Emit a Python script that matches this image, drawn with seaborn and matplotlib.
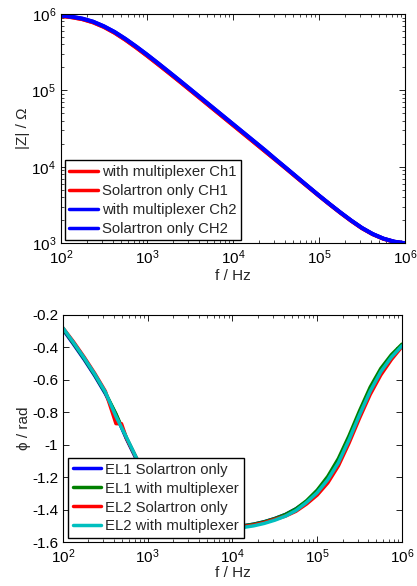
import numpy as np
import pandas as pd
import matplotlib
matplotlib.use("Agg")
import matplotlib.pyplot as plt
import seaborn as sns
from matplotlib.lines import Line2D
from matplotlib.ticker import LogLocator, FixedLocator, NullFormatter

# ---------------- data ----------------
freq = [100, 133, 178, 237, 316, 422, 562, 750, 1000, 1334, 1778, 2371, 3162, 4217,
        5623, 7499, 10000, 13335, 17783, 23714, 31623, 42170, 56234, 74989, 100000,
        133352, 177828, 237137, 316228, 421697, 562341, 749894, 1000000]

# |Z| read as log10(ohm)
logz_mux_ch1 = [5.975, 5.958, 5.932, 5.890, 5.830, 5.753, 5.662, 5.561, 5.455, 5.345,
                5.234, 5.121, 5.006, 4.891, 4.776, 4.661, 4.546, 4.431, 4.316, 4.201,
                4.086, 3.970, 3.852, 3.736, 3.620, 3.507, 3.397, 3.292, 3.196, 3.117,
                3.057, 3.018, 2.998]
logz_sol_ch1 = [5.976, 5.959, 5.933, 5.892, 5.832, 5.755, 5.664, 5.563, 5.457, 5.347,
                5.236, 5.123, 5.008, 4.893, 4.778, 4.663, 4.548, 4.433, 4.318, 4.203,
                4.088, 3.972, 3.854, 3.738, 3.622, 3.509, 3.399, 3.294, 3.197, 3.118,
                3.058, 3.019, 2.999]
logz_mux_ch2 = [5.980, 5.965, 5.940, 5.900, 5.840, 5.765, 5.675, 5.575, 5.470, 5.360,
                5.248, 5.135, 5.020, 4.905, 4.790, 4.675, 4.560, 4.445, 4.330, 4.215,
                4.095, 3.978, 3.860, 3.742, 3.625, 3.512, 3.402, 3.297, 3.200, 3.120,
                3.060, 3.020, 3.000]
logz_sol_ch2 = [5.981, 5.966, 5.941, 5.901, 5.841, 5.766, 5.676, 5.576, 5.471, 5.361,
                5.249, 5.136, 5.021, 4.906, 4.791, 4.676, 4.561, 4.446, 4.331, 4.216,
                4.096, 3.979, 3.861, 3.743, 3.626, 3.513, 3.403, 3.298, 3.201, 3.121,
                3.061, 3.021, 3.001]
mag_labels = ["with multiplexer Ch1", "Solartron only CH1",
              "with multiplexer Ch2", "Solartron only CH2"]

# phase (rad)
ph_el1_sol = [-0.29, -0.38, -0.475, -0.575, -0.685, -0.815, -0.965, -1.10, -1.23,
              -1.325, -1.40, -1.45, -1.48, -1.50, -1.505, -1.51, -1.505, -1.50, -1.49,
              -1.475, -1.455, -1.43, -1.395, -1.35, -1.285, -1.205, -1.10, -0.96,
              -0.805, -0.66, -0.54, -0.455, -0.385]
ph_el1_mux = [-0.285, -0.375, -0.47, -0.57, -0.68, -0.81, -0.96, -1.095, -1.225,
              -1.325, -1.40, -1.45, -1.48, -1.50, -1.505, -1.51, -1.505, -1.50, -1.49,
              -1.475, -1.455, -1.43, -1.395, -1.345, -1.28, -1.195, -1.085, -0.945,
              -0.79, -0.645, -0.53, -0.445, -0.38]
freq_el2_sol = [100, 133, 178, 237, 316, 422, 490, 562, 750, 1000, 1334, 1778, 2371,
                3162, 4217, 5623, 7499, 10000, 13335, 17783, 23714, 31623, 42170, 56234,
                74989, 100000, 133352, 177828, 237137, 316228, 421697, 562341, 749894,
                1000000]
ph_el2_sol = [-0.28, -0.365, -0.46, -0.56, -0.67, -0.87, -0.87, -0.96, -1.09, -1.22,
              -1.32, -1.395, -1.45, -1.48, -1.50, -1.51, -1.515, -1.51, -1.505, -1.495,
              -1.48, -1.46, -1.44, -1.41, -1.365, -1.31, -1.235, -1.13, -0.99, -0.835,
              -0.69, -0.57, -0.475, -0.395]
ph_el2_mux = [-0.28, -0.37, -0.465, -0.565, -0.675, -0.825, -0.955, -1.09, -1.22,
              -1.32, -1.395, -1.45, -1.48, -1.50, -1.51, -1.515, -1.515, -1.51, -1.50,
              -1.485, -1.465, -1.44, -1.405, -1.355, -1.295, -1.215, -1.11, -0.97,
              -0.815, -0.67, -0.55, -0.46, -0.39]
ph_labels = ["EL1 Solartron only", "EL1 with multiplexer",
             "EL2 Solartron only", "EL2 with multiplexer"]

x_ticks = [1e2, 1e3, 1e4, 1e5, 1e6]
mag_yticks = [1e3, 1e4, 1e5, 1e6]
ph_yticks = [-1.6, -1.4, -1.2, -1.0, -0.8, -0.6, -0.4, -0.2]
ph_ytick_labels = ["-1.6", "-1.4", "-1.2", "-1", "-0.8", "-0.6", "-0.4", "-0.2"]

# ---------------- style ----------------
sns.set_style("ticks")
plt.rcParams["font.family"] = ["Liberation Sans", "DejaVu Sans"]
plt.rcParams["mathtext.fontset"] = "custom"
plt.rcParams["mathtext.rm"] = "Liberation Sans"
plt.rcParams["mathtext.it"] = "Liberation Sans:italic"
plt.rcParams["axes.unicode_minus"] = False
plt.rcParams["xtick.direction"] = "in"
plt.rcParams["ytick.direction"] = "in"
FS = 11
FS_LEG = 10.75

mag_colors = {mag_labels[0]: "#ff0000", mag_labels[1]: "#ff0000",
              mag_labels[2]: "#0000ff", mag_labels[3]: "#0000ff"}
ph_colors = {ph_labels[0]: "#0000ff", ph_labels[1]: "#008000",
             ph_labels[2]: "#ff0000", ph_labels[3]: "#00bfbf"}

df_mag = pd.concat([
    pd.DataFrame({"f": freq, "v": np.power(10.0, vals), "s": lab})
    for vals, lab in zip([logz_mux_ch1, logz_sol_ch1, logz_mux_ch2, logz_sol_ch2],
                         mag_labels)
])
df_ph = pd.concat([
    pd.DataFrame({"f": fr, "v": vals, "s": lab})
    for fr, vals, lab in zip([freq, freq, freq_el2_sol, freq],
                             [ph_el1_sol, ph_el1_mux, ph_el2_sol, ph_el2_mux], ph_labels)
])

fig = plt.figure(figsize=(4.17, 5.86), dpi=100)
ax1 = fig.add_axes([0.146, 0.585, 0.825, 0.391])
ax2 = fig.add_axes([0.151, 0.075, 0.813, 0.3875])

LW_MAG = 2.8
LW_PH = 2.5
sns.lineplot(data=df_mag, x="f", y="v", hue="s", hue_order=mag_labels,
             palette=mag_colors, estimator=None, linewidth=LW_MAG, legend=False, ax=ax1)
sns.lineplot(data=df_ph, x="f", y="v", hue="s", hue_order=ph_labels,
             palette=ph_colors, estimator=None, linewidth=LW_PH, legend=False, ax=ax2)


def style_axes(ax):
    for sp in ax.spines.values():
        sp.set_visible(True)
        sp.set_color("black")
        sp.set_linewidth(0.8)
    ax.tick_params(which="both", top=True, right=True, direction="in",
                   labelsize=FS, colors="black")
    ax.tick_params(which="major", length=4, width=0.6)
    ax.tick_params(which="minor", length=2, width=0.5)


ax1.set_xscale("log")
ax1.set_yscale("log")
ax1.set_xlim(1e2, 1e6)
ax1.set_ylim(1e3, 1e6)
ax1.xaxis.set_major_locator(FixedLocator(x_ticks))
ax1.yaxis.set_major_locator(FixedLocator(mag_yticks))
ax1.xaxis.set_minor_locator(LogLocator(base=10, subs=np.arange(2, 10)))
ax1.yaxis.set_minor_locator(LogLocator(base=10, subs=np.arange(2, 10)))
ax1.xaxis.set_minor_formatter(NullFormatter())
ax1.yaxis.set_minor_formatter(NullFormatter())
style_axes(ax1)
ax1.set_xlabel("f / Hz", fontsize=FS, labelpad=2)
ax1.set_ylabel("|Z| / Ω", fontsize=FS, labelpad=1)

ax2.set_xscale("log")
ax2.set_xlim(1e2, 1e6)
ax2.set_ylim(-1.6, -0.2)
ax2.xaxis.set_major_locator(FixedLocator(x_ticks))
ax2.xaxis.set_minor_locator(LogLocator(base=10, subs=np.arange(2, 10)))
ax2.xaxis.set_minor_formatter(NullFormatter())
ax2.set_yticks(ph_yticks)
ax2.set_yticklabels(ph_ytick_labels)
style_axes(ax2)
ax2.set_xlabel("f / Hz", fontsize=FS, labelpad=0)
ax2.set_ylabel("ϕ / rad", fontsize=FS, labelpad=1)


def make_legend(ax, labels, colors, anchor, lw):
    handles = [Line2D([], [], color=colors[l], linewidth=lw) for l in labels]
    leg = ax.legend(handles, labels, loc="lower left", bbox_to_anchor=anchor,
                    borderaxespad=0, fontsize=FS_LEG, frameon=True, fancybox=False,
                    framealpha=1, edgecolor="black", handlelength=1.9,
                    handletextpad=0.3, labelspacing=0.33, borderpad=0.3)
    leg.get_frame().set_linewidth(1.0)
    return leg


make_legend(ax1, mag_labels, mag_colors, (0.012, 0.013), LW_PH)
make_legend(ax2, ph_labels, ph_colors, (0.015, 0.018), LW_PH)

fig.savefig("out.png", dpi=100)
